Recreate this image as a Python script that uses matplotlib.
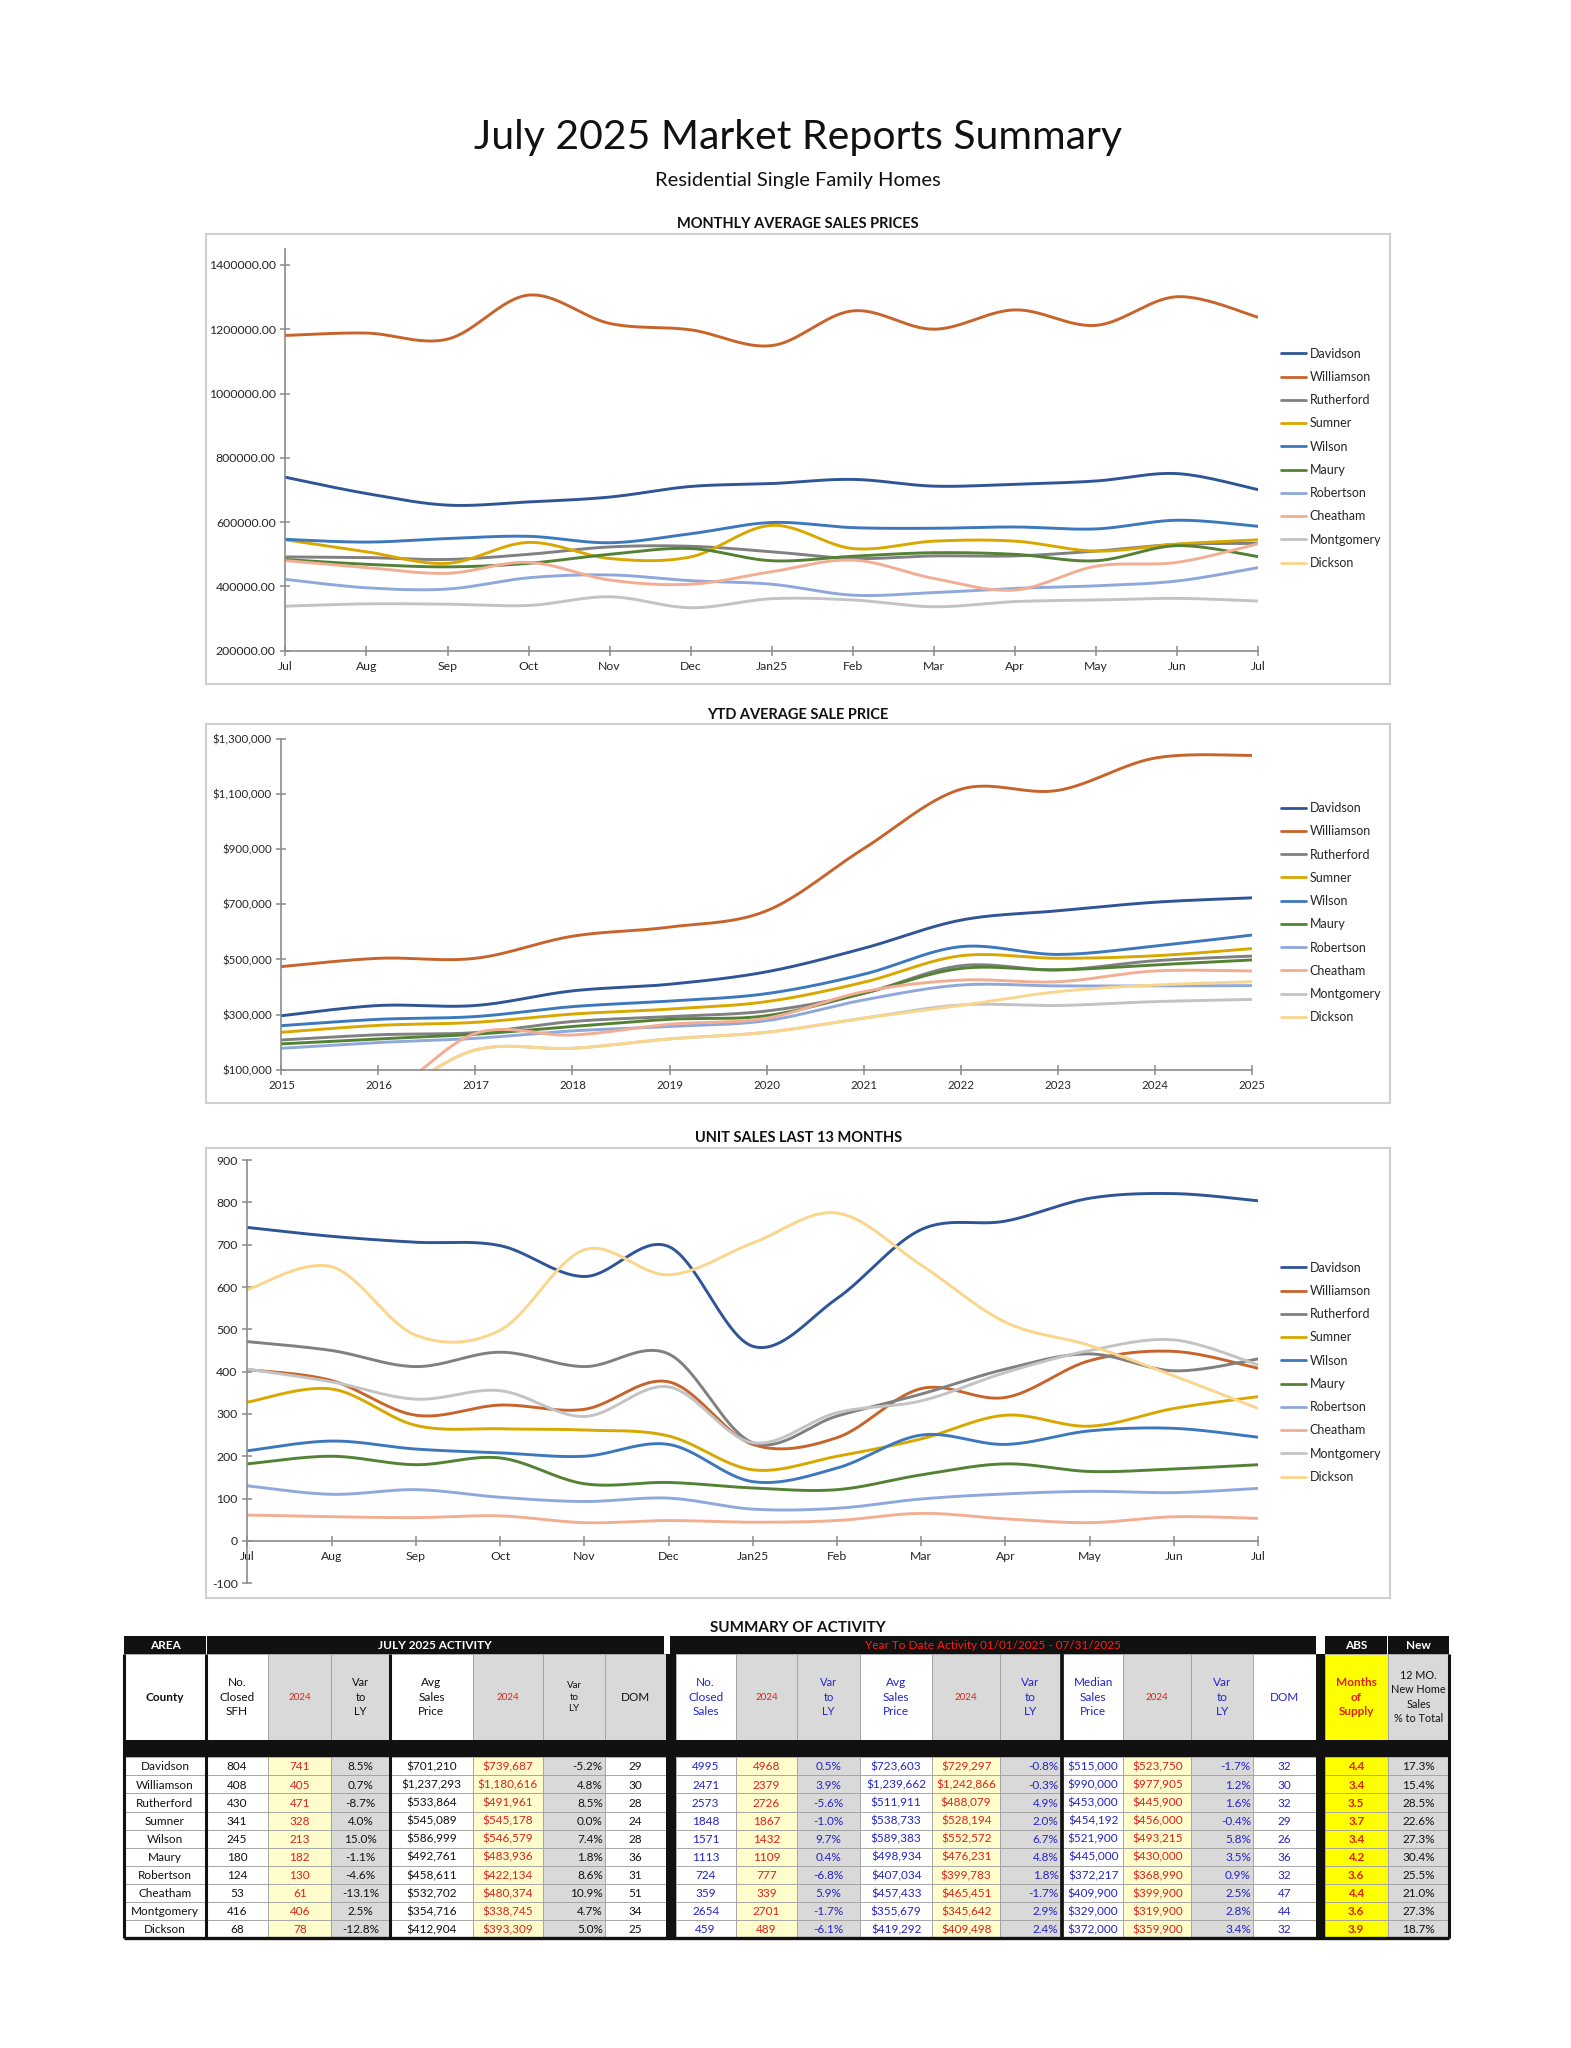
import numpy as np
import matplotlib
matplotlib.use('Agg')
import matplotlib.pyplot as plt
from matplotlib.patches import Rectangle
from matplotlib.ticker import FuncFormatter

plt.rcParams['font.family'] = ['Lato', 'DejaVu Sans']

counties = ['Davidson', 'Williamson', 'Rutherford', 'Sumner', 'Wilson',
            'Maury', 'Robertson', 'Cheatham', 'Montgomery', 'Dickson']
colors = ['#2F5597', '#C7642C', '#808080', '#D9A800', '#3D78BD',
          '#548235', '#8FA8DC', '#F2AE92', '#C3C3C3', '#FAD68C']

months = ['Jul', 'Aug', 'Sep', 'Oct', 'Nov', 'Dec', 'Jan25', 'Feb',
          'Mar', 'Apr', 'May', 'Jun', 'Jul']
years = ['2015', '2016', '2017', '2018', '2019', '2020', '2021', '2022',
         '2023', '2024', '2025']

# monthly average sales prices (last 13 months)
mp_davidson = [739687, 689000, 653000, 663000, 678000, 711000, 720000, 733000, 712000, 718000, 728000, 751000, 701210]
mp_williamson = [1180616, 1188000, 1169000, 1306000, 1218000, 1198000, 1149000, 1257000, 1200000, 1260000, 1212000, 1301000, 1237293]
mp_rutherford = [491961, 490000, 484000, 500000, 523000, 525000, 508000, 487000, 495000, 495000, 510000, 531000, 533864]
mp_sumner = [545178, 508000, 472000, 537000, 487000, 492000, 590000, 518000, 541000, 541000, 510000, 532000, 545089]
mp_wilson = [546579, 538000, 549000, 556000, 536000, 564000, 599000, 583000, 581000, 585000, 579000, 606000, 586999]
mp_maury = [483936, 469000, 461000, 472000, 500000, 518000, 480000, 494000, 505000, 500000, 480000, 527000, 492761]
mp_robertson = [422134, 396000, 392000, 427000, 436000, 418000, 407000, 373000, 381000, 394000, 402000, 417000, 458611]
mp_cheatham = [480374, 459000, 441000, 475000, 420000, 407000, 446000, 482000, 425000, 389000, 463000, 475000, 532702]
mp_montgomery = [338745, 346000, 345000, 341000, 368000, 334000, 362000, 358000, 337000, 353000, 358000, 363000, 354716]
mp_dickson = [np.nan] * 13

# YTD average sale price by year
ytd_davidson = [296000, 333000, 333000, 386000, 410000, 455000, 540000, 642000, 676000, 707000, 723000]
ytd_williamson = [474000, 504000, 504000, 584000, 617000, 676000, 901000, 1116000, 1112000, 1229000, 1239000]
ytd_rutherford = [208000, 227000, 235000, 275000, 293000, 313000, 377000, 477000, 462000, 495000, 512000]
ytd_sumner = [236000, 261000, 272000, 302000, 320000, 347000, 417000, 513000, 504000, 513000, 539000]
ytd_wilson = [260000, 283000, 293000, 329000, 349000, 376000, 446000, 546000, 518000, 548000, 588000]
ytd_maury = [194000, 212000, 229000, 257000, 283000, 296000, 377000, 467000, 462000, 480000, 498000]
ytd_robertson = [178000, 199000, 214000, 241000, 257000, 278000, 353000, 407000, 404000, 404000, 405000]
ytd_cheatham = [0, 0, 232000, 226000, 265000, 287000, 383000, 425000, 419000, 458000, 458000]
ytd_montgomery = [0, 0, 172000, 178000, 212000, 236000, 287000, 335000, 333000, 347000, 355000]
ytd_dickson = [0, 0, 172000, 178000, 212000, 236000, 287000, 333000, 383000, 407000, 419000]

# unit sales last 13 months
us_davidson = [741, 720, 706, 698, 625, 696, 460, 573, 736, 756, 810, 821, 804]
us_williamson = [405, 379, 297, 321, 311, 376, 228, 244, 360, 339, 426, 448, 408]
us_rutherford = [471, 450, 412, 446, 412, 442, 232, 295, 347, 406, 442, 402, 430]
us_sumner = [328, 359, 273, 265, 262, 248, 168, 200, 241, 297, 271, 313, 341]
us_wilson = [213, 236, 217, 208, 200, 228, 140, 172, 250, 228, 260, 266, 245]
us_maury = [182, 200, 180, 196, 135, 138, 125, 121, 156, 182, 164, 170, 180]
us_robertson = [130, 110, 121, 103, 93, 101, 75, 77, 99, 111, 117, 114, 124]
us_cheatham = [61, 57, 55, 59, 43, 48, 44, 48, 65, 52, 43, 57, 53]
us_montgomery = [406, 376, 335, 355, 294, 364, 232, 303, 331, 398, 450, 475, 416]
us_dickson = [594, 648, 486, 498, 688, 629, 704, 775, 652, 517, 462, 390, 313]

# summary table
jul_closed = ['804', '408', '430', '341', '245', '180', '124', '53', '416', '68']
jul_closed_ly = ['741', '405', '471', '328', '213', '182', '130', '61', '406', '78']
jul_closed_var = ['8.5%', '0.7%', '-8.7%', '4.0%', '15.0%', '-1.1%', '-4.6%', '-13.1%', '2.5%', '-12.8%']
jul_price = ['$701,210', '$1,237,293', '$533,864', '$545,089', '$586,999', '$492,761', '$458,611', '$532,702', '$354,716', '$412,904']
jul_price_ly = ['$739,687', '$1,180,616', '$491,961', '$545,178', '$546,579', '$483,936', '$422,134', '$480,374', '$338,745', '$393,309']
jul_price_var = ['-5.2%', '4.8%', '8.5%', '0.0%', '7.4%', '1.8%', '8.6%', '10.9%', '4.7%', '5.0%']
jul_dom = ['29', '30', '28', '24', '28', '36', '31', '51', '34', '25']
ytd_closed = ['4995', '2471', '2573', '1848', '1571', '1113', '724', '359', '2654', '459']
ytd_closed_ly = ['4968', '2379', '2726', '1867', '1432', '1109', '777', '339', '2701', '489']
ytd_closed_var = ['0.5%', '3.9%', '-5.6%', '-1.0%', '9.7%', '0.4%', '-6.8%', '5.9%', '-1.7%', '-6.1%']
ytd_price = ['$723,603', '$1,239,662', '$511,911', '$538,733', '$589,383', '$498,934', '$407,034', '$457,433', '$355,679', '$419,292']
ytd_price_ly = ['$729,297', '$1,242,866', '$488,079', '$528,194', '$552,572', '$476,231', '$399,783', '$465,451', '$345,642', '$409,498']
ytd_price_var = ['-0.8%', '-0.3%', '4.9%', '2.0%', '6.7%', '4.8%', '1.8%', '-1.7%', '2.9%', '2.4%']
ytd_median = ['$515,000', '$990,000', '$453,000', '$454,192', '$521,900', '$445,000', '$372,217', '$409,900', '$329,000', '$372,000']
ytd_median_ly = ['$523,750', '$977,905', '$445,900', '$456,000', '$493,215', '$430,000', '$368,990', '$399,900', '$319,900', '$359,900']
ytd_median_var = ['-1.7%', '1.2%', '1.6%', '-0.4%', '5.8%', '3.5%', '0.9%', '2.5%', '2.8%', '3.4%']
ytd_dom = ['32', '30', '32', '29', '26', '36', '32', '47', '44', '32']
months_supply = ['4.4', '3.4', '3.5', '3.7', '3.4', '4.2', '3.6', '4.4', '3.6', '3.9']
new_home_pct = ['17.3%', '15.4%', '28.5%', '22.6%', '27.3%', '30.4%', '25.5%', '21.0%', '27.3%', '18.7%']

monthly_prices = [mp_davidson, mp_williamson, mp_rutherford, mp_sumner, mp_wilson,
                  mp_maury, mp_robertson, mp_cheatham, mp_montgomery, mp_dickson]
ytd_prices = [ytd_davidson, ytd_williamson, ytd_rutherford, ytd_sumner, ytd_wilson,
              ytd_maury, ytd_robertson, ytd_cheatham, ytd_montgomery, ytd_dickson]
unit_sales = [us_davidson, us_williamson, us_rutherford, us_sumner, us_wilson,
              us_maury, us_robertson, us_cheatham, us_montgomery, us_dickson]


def smooth(x, y, n=40):
    # excel style smoothed line: bezier through points
    x = np.asarray(x, float)
    y = np.asarray(y, float)
    if np.all(np.isnan(y)):
        return [], []
    px = np.concatenate([[x[0]], x, [x[-1]]])
    py = np.concatenate([[y[0]], y, [y[-1]]])
    t = np.linspace(0, 1, n)
    xs, ys = [], []
    for i in range(len(x) - 1):
        p0 = np.array([px[i], py[i]])
        p1 = np.array([px[i + 1], py[i + 1]])
        p2 = np.array([px[i + 2], py[i + 2]])
        p3 = np.array([px[i + 3], py[i + 3]])
        c1 = p1 + (p2 - p0) / 6
        c2 = p2 - (p3 - p1) / 6
        for a, b in [(0, xs), (1, ys)]:
            b.extend((1 - t) ** 3 * p1[a] + 3 * (1 - t) ** 2 * t * c1[a]
                     + 3 * (1 - t) * t ** 2 * c2[a] + t ** 3 * p2[a])
    return xs, ys


W, H = 1200.0, 1564.0
fig = plt.figure(figsize=(15.71, 20.48), dpi=100)

ov = fig.add_axes([0, 0, 1, 1])
ov.set_xlim(0, W)
ov.set_ylim(H, 0)
ov.axis('off')


def fx(x):
    return x / W


def fy(y):
    return 1 - y / H


fig.text(0.508, fy(105), 'July 2025 Market Reports Summary', ha='center', va='center',
         fontsize=29.5, color='#111111')
fig.text(0.508, fy(138), 'Residential Single Family Homes', ha='center', va='center',
         fontsize=14.5, color='#111111')

axis_col = '#8C8C8C'
text_col = '#262626'


def line_chart(title, title_y, box, plot, xlabels, series, ylim, yticks, fmt,
               leg_y, zero_axis=False, tick_fs=8.8):
    fig.text(0.508, fy(title_y), title, ha='center', va='center', fontsize=10.5,
             fontweight='bold', color='#111111')
    ov.add_patch(Rectangle((box[0], box[1]), box[2] - box[0], box[3] - box[1],
                           fill=False, ec='#D0D0D0', lw=1.5))
    ax = fig.add_axes([fx(plot[0]), fy(plot[3]), fx(plot[2] - plot[0]), (plot[3] - plot[1]) / H])
    ax.patch.set_alpha(0)
    x = np.arange(len(xlabels))
    for name, col, vals in zip(counties, colors, series):
        sx, sy = smooth(x, vals)
        ax.plot(sx, sy, color=col, lw=2.1, label=name, solid_capstyle='round')
    ax.set_xlim(0, len(xlabels) - 1)
    ax.set_ylim(*ylim)
    ax.set_xticks(x)
    ax.set_xticklabels(xlabels)
    ax.set_yticks(yticks)
    ax.yaxis.set_major_formatter(FuncFormatter(fmt))
    for s in ['top', 'right']:
        ax.spines[s].set_visible(False)
    for s in ['left', 'bottom']:
        ax.spines[s].set_color(axis_col)
        ax.spines[s].set_linewidth(1.2)
    if zero_axis:
        ax.spines['bottom'].set_position(('data', 0))
    ax.tick_params(direction='inout', length=7, width=1.1, color=axis_col,
                   labelsize=tick_fs, labelcolor=text_col)
    ax.tick_params(axis='x', pad=4)
    leg = fig.legend(handles=ax.get_lines(), loc='center left',
                     bbox_to_anchor=(fx(975), fy(leg_y)), frameon=False,
                     fontsize=9, handlelength=2.0, handletextpad=0.25,
                     labelspacing=0.9, borderaxespad=0)
    for t in leg.get_texts():
        t.set_color(text_col)
    for l in leg.get_lines():
        l.set_linewidth(2)
    return ax


line_chart('MONTHLY AVERAGE SALES PRICES', 171, (157, 179, 1062, 522),
           (218, 190, 961, 497), months, monthly_prices, (200000, 1450000),
           np.arange(200000, 1400001, 200000), lambda v, p: '%.2f' % v, 350)

line_chart('YTD AVERAGE SALE PRICE', 546, (157, 553, 1062, 842),
           (215, 564, 956, 817), years, ytd_prices, (100000, 1300000),
           np.arange(100000, 1300001, 200000), lambda v, p: '${:,.0f}'.format(v), 697,
           tick_fs=8.3)

line_chart('UNIT SALES LAST 13 MONTHS', 869, (157, 877, 1062, 1220),
           (189, 886, 961, 1209), months, unit_sales, (-100, 900),
           np.arange(-100, 901, 100), lambda v, p: '%d' % v, 1048, zero_axis=True)

# ---------------- summary table ----------------
fig.text(0.508, fy(1243), 'SUMMARY OF ACTIVITY', ha='center', va='center',
         fontsize=11, fontweight='bold', color='#111111')

GRAY = '#D9D9D9'
LY = '#FFFDCC'
YEL = '#FFFF00'
BLUE = '#2424C8'
RED = '#E0201B'
BLK = '#111111'

h1_top, h1_bot, h2_bot, sep_bot = 1249.5, 1263.0, 1329.0, 1342.0
row_h = 13.8

# (x0, x1, header, header bg, header colour, header size, values, bg, colour, align, bold)
cols = [
    (95, 157, 'County', 'white', BLK, 8.5, counties, 'white', BLK, 'c', False),
    (157, 205, 'No.\nClosed\nSFH', 'white', BLK, 8.5, jul_closed, 'white', BLK, 'c', False),
    (205, 253, '2024', GRAY, RED, 7, jul_closed_ly, LY, RED, 'c', False),
    (253, 298, 'Var\nto\nLY', GRAY, BLK, 8, jul_closed_var, GRAY, BLK, 'c', False),
    (298, 361, 'Avg\nSales\nPrice', 'white', BLK, 8.5, jul_price, 'white', BLK, 'c', False),
    (361, 415, '2024', GRAY, RED, 7, jul_price_ly, LY, RED, 'c', False),
    (415, 462, 'Var\nto\nLY', GRAY, BLK, 7, jul_price_var, GRAY, BLK, 'r', False),
    (462, 509, 'DOM', GRAY, BLK, 8.5, jul_dom, 'white', BLK, 'c', False),
    (516, 562, 'No.\nClosed\nSales', 'white', BLUE, 8.5, ytd_closed, 'white', BLUE, 'c', False),
    (562, 609, '2024', GRAY, RED, 7, ytd_closed_ly, LY, RED, 'c', False),
    (609, 657, 'Var\nto\nLY', GRAY, BLUE, 8, ytd_closed_var, GRAY, BLUE, 'c', False),
    (657, 712, 'Avg\nSales\nPrice', 'white', BLUE, 8.5, ytd_price, 'white', BLUE, 'c', False),
    (712, 764, '2024', GRAY, RED, 7, ytd_price_ly, LY, RED, 'c', False),
    (764, 810, 'Var\nto\nLY', GRAY, BLUE, 8.5, ytd_price_var, GRAY, BLUE, 'r', False),
    (812, 858, 'Median\nSales\nPrice', 'white', BLUE, 8.5, ytd_median, 'white', BLUE, 'c', False),
    (858, 910, '2024', GRAY, RED, 7, ytd_median_ly, LY, RED, 'c', False),
    (910, 957, 'Var\nto\nLY', GRAY, BLUE, 8.5, ytd_median_var, GRAY, BLUE, 'r', False),
    (957, 1005, 'DOM', 'white', BLUE, 8.5, ytd_dom, 'white', BLUE, 'c', False),
    (1012, 1060, 'Months\nof\nSupply', YEL, RED, 8.5, months_supply, YEL, RED, 'c', True),
    (1060, 1107, '12 MO.\nNew Home\nSales\n% to Total', GRAY, BLK, 7.8, new_home_pct, GRAY, BLK, 'c', False),
]

n_rows = len(counties)
tbl_bot = sep_bot + n_rows * row_h

for (x0, x1, head, hbg, hcol, hfs, vals, bg, col, al, bold) in cols:
    ov.add_patch(Rectangle((x0, h1_bot), x1 - x0, h2_bot - h1_bot, fc=hbg, ec='#A0A0A0', lw=0.6))
    ov.text((x0 + x1) / 2, (h1_bot + h2_bot) / 2, head, ha='center', va='center',
            fontsize=hfs, color=hcol, linespacing=1.4,
            fontweight='bold' if (head == 'County' or bold) else 'normal')
    for i, v in enumerate(vals):
        y0 = sep_bot + i * row_h
        ov.add_patch(Rectangle((x0, y0), x1 - x0, row_h, fc=bg, ec='#A0A0A0', lw=0.6))
        if al == 'r':
            ov.text(x1 - 1.5, y0 + row_h / 2 + 0.5, v, ha='right', va='center',
                    fontsize=8.5, color=col, fontweight='bold' if bold else 'normal')
        else:
            ov.text((x0 + x1) / 2, y0 + row_h / 2 + 0.5, v, ha='center', va='center',
                    fontsize=8.5, color=col, fontweight='bold' if bold else 'normal')

# black header bars
head_bars = [(95, 157, 'AREA', 'white'), (158, 507, 'JULY 2025 ACTIVITY', 'white'),
             (512, 1005, 'Year To Date Activity 01/01/2025 - 07/31/2025', '#FF1A1A'),
             (1012, 1059.5, 'ABS', 'white'), (1060.5, 1107, 'New', 'white')]
for x0, x1, lab, c in head_bars:
    ov.add_patch(Rectangle((x0, h1_top), x1 - x0, h1_bot - h1_top, fc=BLK, ec='none'))
    ov.text((x0 + x1) / 2, (h1_top + h1_bot) / 2 + 0.5, lab, ha='center', va='center',
            fontsize=8.5, color=c, fontweight='bold' if c == 'white' else 'normal')

# black separator row
ov.add_patch(Rectangle((95, h2_bot), 1107 - 95, sep_bot - h2_bot, fc=BLK, ec='none'))

# thick black dividers and borders
for x0, x1 in [(509, 516), (1005, 1012)]:
    ov.add_patch(Rectangle((x0, h1_bot), x1 - x0, tbl_bot - h1_bot, fc=BLK, ec='none'))
for xv, lw in [(95, 2.2), (157.5, 2.2), (298, 2.2), (811, 2.6), (1107, 2.2)]:
    ov.plot([xv, xv], [h1_bot, tbl_bot], color=BLK, lw=lw, solid_capstyle='butt')
ov.plot([95, 1107], [tbl_bot, tbl_bot], color=BLK, lw=2.4, solid_capstyle='butt')

fig.savefig('out.png', dpi=100, facecolor='white')
